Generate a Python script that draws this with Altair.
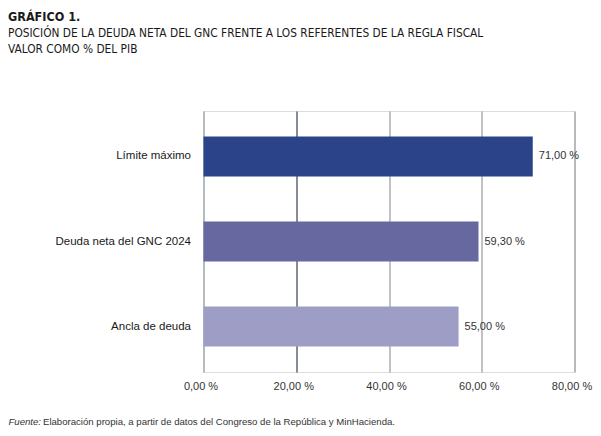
import altair as alt
import pandas as pd

categories = ["Límite máximo", "Deuda neta del GNC 2024", "Ancla de deuda"]
values = [71.0, 59.3, 55.0]
bar_colors = ["#2b4489", "#66689f", "#9e9dc6"]
x_ticks = [0, 20, 40, 60, 80]

title_main = "GRÁFICO 1."
title_lines = [
    "POSICIÓN DE LA DEUDA NETA DEL GNC FRENTE A LOS REFERENTES DE LA REGLA FISCAL",
    "VALOR COMO % DEL PIB",
]
source_label = "Fuente:"
source_text = "Elaboración propia, a partir de datos del Congreso de la República y MinHacienda."

df = pd.DataFrame({"categoria": categories, "valor": values})

LABEL_FONT = "Liberation Sans"
TITLE_FONT = "DejaVu Sans Condensed"

fmt_expr = "replace(format(datum.value, '.2f'), '.', ',') + ' %'"

x_enc = alt.X(
    "valor:Q",
    scale=alt.Scale(domain=[0, 80], nice=False, zero=True),
    axis=alt.Axis(
        values=x_ticks,
        labelExpr=fmt_expr,
        labelFont=LABEL_FONT,
        labelFontSize=11,
        labelColor="#333333",
        labelPadding=8,
        labelFlush=False,
        labelOffset=-3,
        ticks=False,
        domain=False,
        grid=True,
        gridWidth=1,
        gridColor=alt.condition("datum.value === 20", alt.value("#0f1b2a"), alt.value("#7f878d")),
        title=source_text,
        titleFont=LABEL_FONT,
        titleFontSize=9.6,
        titleFontWeight="normal",
        titleColor="#333333",
        titleAlign="left",
        titleBaseline="alphabetic",
        titleX=-161,
        titleY=52.5,
    ),
)

y_enc = alt.Y(
    "categoria:N",
    sort=categories,
    scale=alt.Scale(paddingInner=0.53, paddingOuter=0.3),
    axis=alt.Axis(
        labelFont=LABEL_FONT,
        labelFontSize=11.5,
        labelColor="#1a1a1a",
        labelPadding=13,
        ticks=False,
        domain=False,
        grid=False,
        title=source_label,
        titleFont=LABEL_FONT,
        titleFontSize=9.6,
        titleFontStyle="italic",
        titleFontWeight="normal",
        titleColor="#333333",
        titleAngle=0,
        titleAlign="left",
        titleBaseline="alphabetic",
        titleX=-195.5,
        titleY=313.5,
    ),
)

bars = alt.Chart(df).mark_bar().encode(
    x=x_enc,
    y=y_enc,
    color=alt.Color(
        "categoria:N",
        scale=alt.Scale(domain=categories, range=bar_colors),
        legend=None,
    ),
)

labels = alt.Chart(df).mark_text(
    align="left", baseline="middle", dx=6, font=LABEL_FONT, fontSize=11, color="#333333"
).transform_calculate(
    etiqueta="replace(format(datum.valor, '.2f'), '.', ',') + ' %'"
).encode(
    x="valor:Q",
    y=alt.Y("categoria:N", sort=categories),
    text="etiqueta:N",
)

chart = (
    alt.layer(bars, labels)
    .properties(
        width=371,
        height=261,
        autosize=alt.AutoSizeParams(type="none"),
        padding={"left": 195.5, "top": 103, "right": 18.5, "bottom": 56},
        title=alt.TitleParams(
            text=title_main,
            subtitle=title_lines,
            anchor="start",
            frame="group",
            orient="top",
            dx=-195.5,
            offset=55,
            font=TITLE_FONT,
            fontSize=12.5,
            fontWeight="bold",
            color="#1a1a1a",
            subtitleFont=TITLE_FONT,
            subtitleFontSize=11.8,
            subtitleColor="#1a1a1a",
            subtitleLineHeight=16.5,
            subtitlePadding=4,
        ),
    )
    .configure_view(stroke=None)
    .configure(background="white")
)

chart.save("out.html", embed_options={"renderer": "svg", "actions": False})
